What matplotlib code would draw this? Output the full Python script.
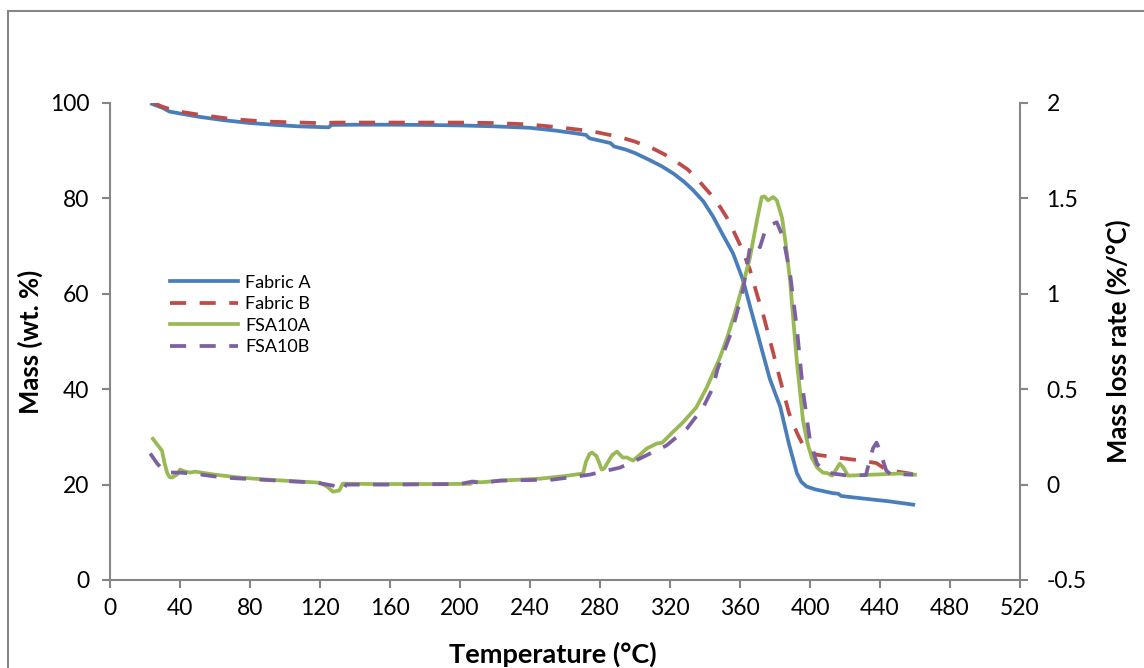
import numpy as np
import matplotlib
matplotlib.use('Agg')
import matplotlib.pyplot as plt
from matplotlib.patches import Rectangle

plt.rcParams['font.family'] = ['Lato', 'DejaVu Sans']

# mass curves (wt. %), left axis
fabA_t = [24, 30, 34, 40, 51, 65, 80, 95, 108, 125, 126.5, 140, 160, 180, 200, 220, 240, 255,
          265, 272, 274, 280, 286, 288, 295, 300, 308, 315, 322, 328, 333, 339, 344.6, 350, 356,
          361.7, 366, 371, 377, 383, 388, 392.5, 395, 398, 403, 408, 413, 416, 418, 430, 445, 459]
fabA_m = [99.8, 99.0, 98.2, 97.8, 97.1, 96.4, 95.8, 95.4, 95.1, 94.9, 95.4, 95.45, 95.45, 95.4,
          95.3, 95.1, 94.8, 94.2, 93.7, 93.3, 92.6, 92.1, 91.6, 90.9, 90.2, 89.5, 88.1, 86.8,
          85.2, 83.5, 81.8, 79.4, 76.2, 72.5, 68.5, 62.9, 57.0, 50.3, 42.2, 36.3, 28.5, 22.4,
          20.6, 19.6, 19.0, 18.6, 18.2, 18.1, 17.6, 17.1, 16.5, 15.8]

fabB_t = [25, 30, 38, 50, 70, 90, 118, 130, 165, 200, 220, 240, 259, 275, 291, 300, 310, 317,
          324, 330, 335, 340, 344.6, 349, 352.6, 356, 361, 365.7, 370, 373, 378, 383, 388,
          392.6, 396, 400, 405, 417, 430, 438, 442, 447, 459]
fabB_m = [100, 99.2, 98.3, 97.6, 96.6, 96.1, 95.8, 95.9, 95.9, 95.9, 95.8, 95.5, 94.8, 94.1,
          92.9, 91.9, 90.5, 89.2, 87.6, 86.1, 84.3, 82.2, 80.3, 78.0, 75.9, 73.4, 69.5, 65.0,
          59.5, 56.0, 49.0, 41.9, 35.0, 30.8, 28.3, 26.6, 26.2, 25.6, 25.0, 24.5, 23.5, 22.9, 22.2]

# mass loss rate (%/°C), right axis
fsaA_t = [24.5, 27, 29.7, 31, 32.6, 34, 35.4, 37, 38.9, 40, 43, 45.7, 48.6, 60, 74, 90, 105,
          120, 124, 127.4, 131, 133, 150, 190, 206, 208, 212, 223, 245.7, 260, 270.3, 272, 274,
          275.4, 278, 281, 282.5, 284, 287, 289.7, 293, 295.4, 298.9, 302, 306.7, 312.4, 315.6,
          321, 327.4, 335, 341, 348.6, 353, 358, 362, 365.7, 369.7, 372.4, 374, 376, 379, 381,
          384, 386, 388.6, 390.5, 392.6, 394.5, 396, 398.5, 401, 404, 407.4, 410, 412.6, 415,
          417, 419, 421.7, 430, 451, 460]
fsaA_r = [0.24, 0.21, 0.178, 0.12, 0.063, 0.04, 0.037, 0.045, 0.058, 0.079, 0.068, 0.063,
          0.068, 0.052, 0.037, 0.026, 0.018, 0.010, -0.01, -0.037, -0.031, 0.005, 0.003, 0.003,
          0.004, 0.016, 0.012, 0.021, 0.031, 0.045, 0.058, 0.12, 0.16, 0.168, 0.15, 0.079, 0.085,
          0.11, 0.155, 0.173, 0.142, 0.142, 0.126, 0.15, 0.189, 0.215, 0.22, 0.27, 0.326, 0.404,
          0.509, 0.667, 0.78, 0.929, 1.06, 1.19, 1.386, 1.507, 1.51, 1.49, 1.507, 1.49, 1.40,
          1.27, 1.07, 0.86, 0.635, 0.47, 0.336, 0.22, 0.142, 0.09, 0.063, 0.06, 0.047, 0.08,
          0.11, 0.09, 0.047, 0.05, 0.058, 0.052]

fsaB_t = [23, 27, 30, 32.6, 40, 50, 64.6, 90, 118, 127.4, 130, 133, 135, 160, 200, 207, 212,
          223, 253, 274, 291.4, 302.9, 318, 329.7, 338.9, 344.6, 347, 351, 356, 361.7, 365.7,
          368.5, 371.4, 374, 377, 381, 384.6, 388.6, 392.6, 396, 400, 404, 408, 413, 421.7, 432,
          434, 436, 438, 440, 441.7, 443.6, 446, 459]
fsaB_r = [0.163, 0.11, 0.08, 0.063, 0.063, 0.055, 0.037, 0.024, 0.01, -0.005, -0.02, -0.031,
          0.0, 0.0, 0.003, 0.016, 0.008, 0.021, 0.026, 0.052, 0.089, 0.137, 0.205, 0.294, 0.404,
          0.509, 0.6, 0.7, 0.824, 1.02, 1.244, 1.27, 1.244, 1.32, 1.36, 1.375, 1.297, 1.107,
          0.81, 0.49, 0.23, 0.11, 0.07, 0.058, 0.047, 0.05, 0.126, 0.19, 0.22, 0.18, 0.126,
          0.073, 0.055, 0.052]

x_ticks = list(range(0, 521, 40))
left_ticks = [0, 20, 40, 60, 80, 100]
right_ticks = [-0.5, 0, 0.5, 1, 1.5, 2]
right_labels = ['-0.5', '0', '0.5', '1', '1.5', '2']

grey = '#868686'
dash = (0, (4.3, 3.6))

fig = plt.figure(figsize=(11.44, 6.68), dpi=100)
ax = fig.add_axes([110/1144, 88/668, 910/1144, 477/668])
ax2 = ax.twinx()

l1, = ax.plot(fabA_t, fabA_m, color='#4A7EBB', lw=2.7, label='Fabric A')
l2, = ax.plot(fabB_t, fabB_m, color='#BE4B48', lw=2.7, ls=dash, label='Fabric B')
l3, = ax2.plot(fsaA_t, fsaA_r, color='#98B954', lw=2.7, label='FSA10A')
l4, = ax2.plot(fsaB_t, fsaB_r, color='#7D60A0', lw=2.7, ls=dash, label='FSA10B')

ax.set_xlim(0, 520)
ax.set_ylim(0, 100)
ax2.set_ylim(-0.5, 2)
ax.set_xticks(x_ticks)
ax.set_yticks(left_ticks)
ax2.set_yticks(right_ticks)
ax2.set_yticklabels(right_labels)

for a in (ax, ax2):
    for s in a.spines.values():
        s.set_color(grey)
        s.set_linewidth(1.5)
    a.spines['top'].set_visible(False)
ax.spines['right'].set_visible(False)
ax2.spines['left'].set_visible(False)
ax2.spines['bottom'].set_visible(False)

ax.tick_params(axis='y', length=6, width=1.5, color=grey, pad=9, labelsize=16.5)
ax.tick_params(axis='x', length=6, width=1.5, color=grey, pad=7, labelsize=16.5)
ax2.tick_params(axis='y', length=6, width=1.5, color=grey, pad=13, labelsize=16.5)

ax.set_xlabel('Temperature (°C)', fontsize=19.5, fontweight='bold', va='center')
ax.xaxis.set_label_coords(0.487, -0.155)
ax.set_ylabel('Mass (wt. %)', fontsize=18.5, fontweight='bold', va='center')
ax.yaxis.set_label_coords(-0.088, 0.5)
ax2.set_ylabel('Mass loss rate (%/°C)', fontsize=18.5, fontweight='bold', va='center', rotation=90)
ax2.yaxis.set_label_coords(1.108, 0.5)

leg = ax2.legend(handles=[l1, l2, l3, l4], loc='upper left', bbox_to_anchor=(0.066, 0.64),
                 frameon=False, fontsize=13, handlelength=3.75, handletextpad=0.4,
                 labelspacing=0.3, borderpad=0, borderaxespad=0)

fig.add_artist(Rectangle((8/1144, -0.1), 1.2, 1 - 11/668 + 0.1, transform=fig.transFigure,
                         fill=False, edgecolor=grey, lw=1.5, clip_on=False))

fig.savefig('out.png', dpi=100)
